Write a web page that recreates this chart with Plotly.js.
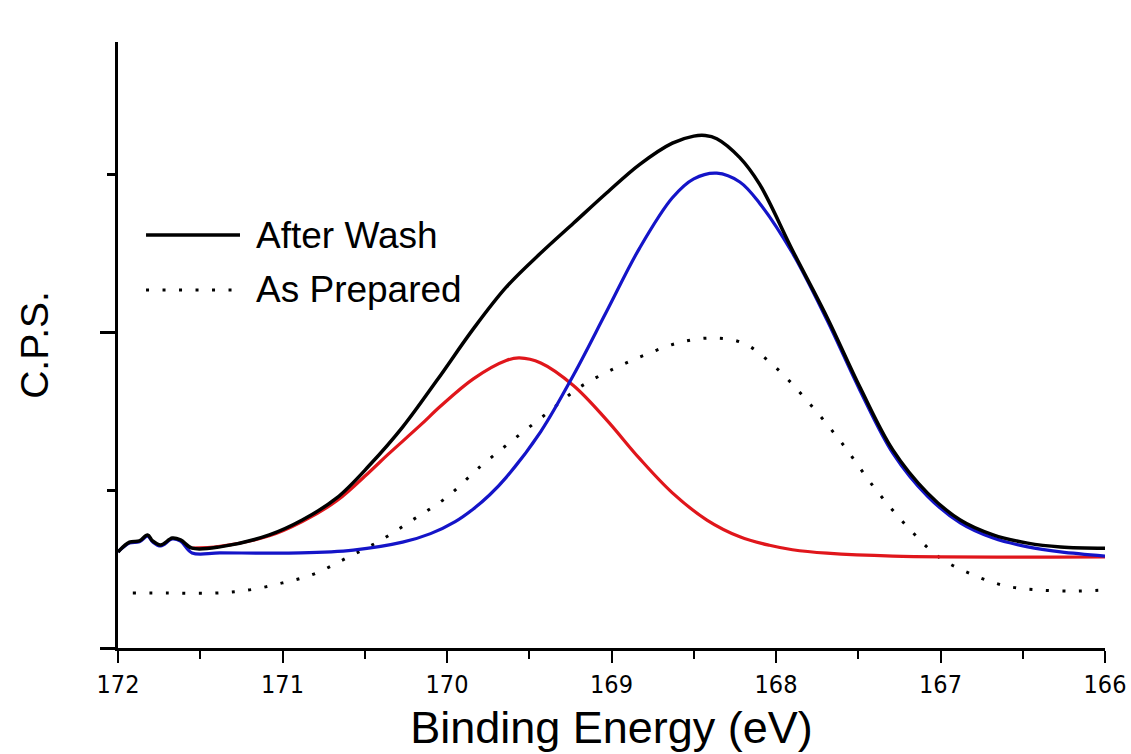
<!DOCTYPE html>
<html>
<head>
<meta charset="utf-8">
<script src="https://cdn.plot.ly/plotly-3.0.1.min.js"></script>
<style>html,body{margin:0;padding:0;background:#fff;}#chart{width:1131px;height:754px;}</style>
</head>
<body>
<div id="chart"></div>
<script>
// Binding energy (eV) and intensity (arbitrary C.P.S. units)
const washName = "After Wash";
const washX = [172.0,171.93,171.87,171.82,171.79,171.74,171.67,171.62,171.55,171.38,171.08,170.88,170.67,170.47,170.27,170.06,169.84,169.64,169.43,169.23,169.03,168.83,168.63,168.50,168.43,168.36,168.22,168.10,167.90,167.69,167.49,167.29,167.08,166.88,166.68,166.47,166.27,166.0];
const washY = [304,335,339,358,339,326,348,342,316,320,358,405,475,579,699,848,1010,1142,1250,1345,1440,1530,1598,1620,1622,1612,1552,1468,1259,1047,826,627,491,405,358,332,320,316];

const fitBlueX = [172.0,171.93,171.87,171.82,171.79,171.74,171.67,171.62,171.55,171.38,170.89,170.57,170.27,170.10,169.95,169.84,169.74,169.64,169.43,169.23,169.03,168.83,168.63,168.50,168.36,168.22,168.10,167.90,167.69,167.49,167.29,167.08,166.88,166.68,166.47,166.27,166.0];
const fitBlueY = [304,332,336,354,336,323,345,338,301,301,301,310,335,362,400,440,485,540,685,865,1065,1265,1425,1485,1503,1475,1408,1250,1038,816,617,481,396,348,320,304,291];

const fitRedX = [171.55,171.38,171.08,170.88,170.67,170.47,170.36,170.16,170.04,169.84,169.64,169.56,169.43,169.23,169.03,168.83,168.63,168.42,168.22,168.04,167.90,167.69,167.29,166.0];
const fitRedY = [316,322,355,400,466,558,612,706,765,852,910,918,902,830,722,600,491,405,352,325,311,300,291,288];

const prepName = "As Prepared";
const prepX = [171.91,171.70,171.40,171.20,171.00,170.81,170.61,170.41,170.21,170.00,169.80,169.60,169.39,169.20,168.99,168.80,168.60,168.40,168.20,168.01,167.81,167.60,167.40,167.20,167.01,166.80,166.60,166.41,166.20,166.0];
const prepY = [174,174,174,184,206,234,285,339,405,478,573,658,744,823,883,927,965,981,965,892,782,649,506,383,288,231,196,184,180,184];

const xTickVals = [172,171,170,169,168,167,166];
const xTickText = ["172","171","170","169","168","167","166"];
const xTitle = "Binding Energy (eV)";
const yTitle = "C.P.S.";

const narrow = "'Liberation Sans Narrow','Arial Narrow','DejaVu Sans Condensed',sans-serif";
const sans = "'Liberation Sans',Arial,sans-serif";

const traces = [
  {x: prepX, y: prepY, name: prepName, mode: 'lines', line: {color: '#000', width: 3, dash: '3px,13.5px', shape: 'spline'}},
  {x: fitRedX, y: fitRedY, name: 'Fit 1', mode: 'lines', line: {color: '#e0161b', width: 3.2, shape: 'spline'}},
  {x: fitBlueX, y: fitBlueY, name: 'Fit 2', mode: 'lines', line: {color: '#1414c8', width: 3.2, shape: 'spline'}},
  {x: washX, y: washY, name: washName, mode: 'lines', line: {color: '#000', width: 3.5, shape: 'spline'}}
];

const layout = {
  width: 1131, height: 754,
  margin: {l: 118, r: 26, t: 42, b: 106},
  paper_bgcolor: '#fff', plot_bgcolor: '#fff',
  showlegend: false,
  xaxis: {
    range: [172, 166], autorange: false,
    showline: true, linewidth: 3, linecolor: '#000',
    showgrid: false, zeroline: false,
    ticks: 'outside', ticklen: 12, tickwidth: 2, tickcolor: '#000',
    tickvals: xTickVals, ticktext: xTickText,
    minor: {dtick: 0.5, ticks: 'outside', ticklen: 8, tickwidth: 2, tickcolor: '#000'},
    tickfont: {family: narrow, size: 25, color: '#000'},
    title: {text: xTitle, font: {family: sans, size: 45, color: '#000'}, standoff: 14},
    automargin: false
  },
  yaxis: {
    range: [0, 1918], autorange: false,
    showline: true, linewidth: 3, linecolor: '#000',
    showgrid: false, zeroline: false,
    ticks: 'outside', ticklen: 15, tickwidth: 3, tickcolor: '#000',
    tick0: 0, dtick: 1000, showticklabels: false,
    minor: {dtick: 500, ticks: 'outside', ticklen: 8, tickwidth: 3, tickcolor: '#000'},
    title: {text: yTitle, font: {family: sans, size: 39, color: '#000'}, standoff: 40},
    automargin: false
  },
  shapes: [
    {type: 'line', xref: 'paper', yref: 'paper', x0: 0.0284, x1: 0.1236, y0: 0.6815, y1: 0.6815, line: {color: '#000', width: 3.5}},
    {type: 'line', xref: 'paper', yref: 'paper', x0: 0.0284, x1: 0.1236, y0: 0.5908, y1: 0.5908, line: {color: '#000', width: 3, dash: '3px,13.5px'}}
  ],
  annotations: [
    {text: washName, xref: 'paper', yref: 'paper', x: 0.1378, y: 0.6815, xanchor: 'left', yanchor: 'middle', showarrow: false, font: {family: sans, size: 37, color: '#000'}},
    {text: prepName, xref: 'paper', yref: 'paper', x: 0.1378, y: 0.5908, xanchor: 'left', yanchor: 'middle', showarrow: false, font: {family: sans, size: 37, color: '#000'}}
  ]
};

Plotly.newPlot('chart', traces, layout, {displayModeBar: false, staticPlot: true});
</script>
</body>
</html>
